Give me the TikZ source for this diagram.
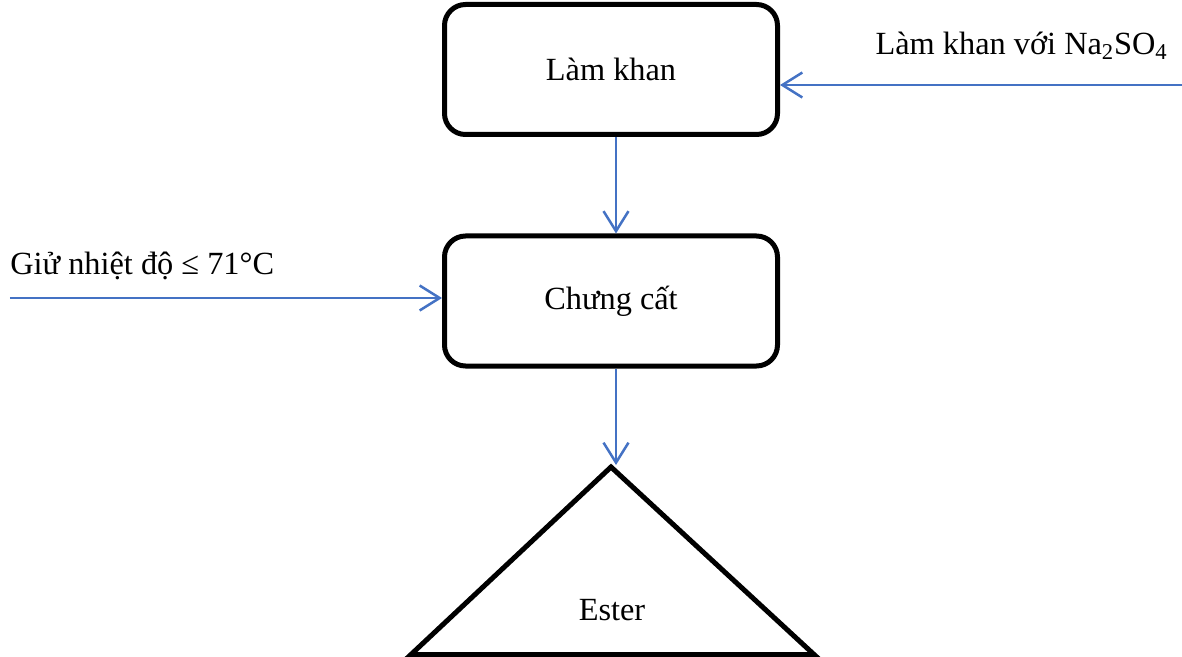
\documentclass[tikz,border=0pt]{standalone}
\usepackage{fontspec}
\setmainfont{Liberation Serif}
\usetikzlibrary{arrows.meta, positioning, calc}

\begin{document}
\begin{tikzpicture}[
    stepbox/.style={rectangle, draw, line width=0.1cm, rounded corners=0.42cm, minimum width=6.66cm, minimum height=2.6cm, inner sep=0pt, font=\fontsize{18.4}{22}\selectfont},
    label/.style={inner sep=0pt, font=\fontsize{18.4}{22}\selectfont},
    flow/.style={-{Straight Barb[length=0.4cm, width=0.5cm]}, line width=0.05cm, draw={rgb,255:red,68;green,114;blue,196}},
    node distance=1.93cm
]
\useasboundingbox (0,0) rectangle (23.64,-13.14);

\node[stepbox] (lamkhan) at (12.22,-1.39) {Làm khan};
\node[stepbox, below=of lamkhan] (chungcat) {Chưng cất};

% product triangle
\coordinate (apex) at (12.22,-9.34);
\coordinate (baseL) at (8.22,-13.09);
\coordinate (baseR) at (16.28,-13.09);
\draw[line width=0.1cm] (baseL) -- (apex) -- (baseR) -- cycle;
\node[label, anchor=base] (ester) at (12.24,-12.4) {Ester};

% side inputs
\node[label, anchor=base east] (dry) at (23.36,-1.1) {Làm khan với Na\textsubscript{2}SO\textsubscript{4}};
\node[label, anchor=base west] (temp) at (0.2,-5.5) {Giử nhiệt độ ≤ 71°C};
\coordinate (dryin) at (23.64,-1.7);
\coordinate (tempin) at (0.2,-5.96);

\draw[flow] (dryin) -- (dryin -| lamkhan.east);
\draw[flow] (tempin) -- (tempin -| chungcat.west);
\draw[flow] ([xshift=0.1cm]lamkhan.south) -- ([xshift=0.1cm]chungcat.north);
\draw[flow] ([xshift=0.1cm]chungcat.south) -- ($(apex)+(0.1,0.04)$);

\end{tikzpicture}
\end{document}
